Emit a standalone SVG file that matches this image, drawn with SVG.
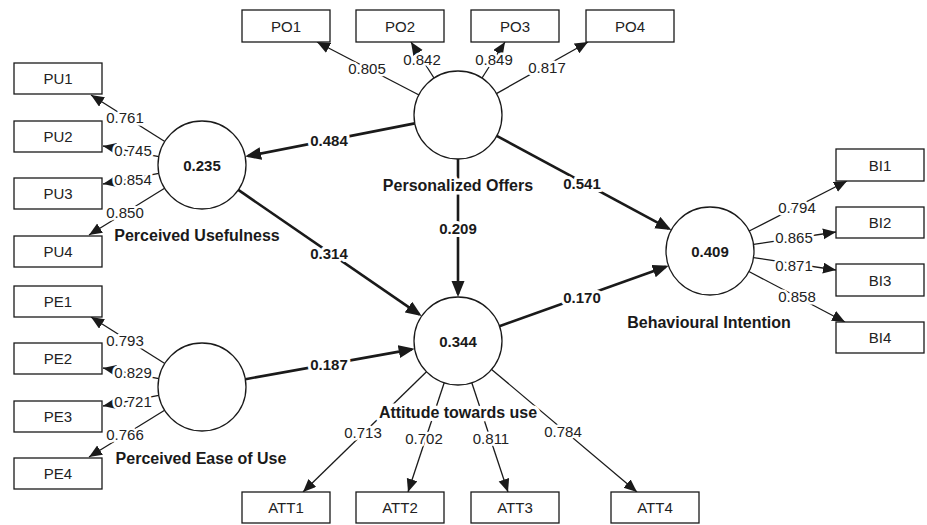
<svg xmlns="http://www.w3.org/2000/svg" width="927" height="525" viewBox="0 0 927 525">
<defs>
<marker id="ah" markerUnits="userSpaceOnUse" markerWidth="14" markerHeight="12" refX="13" refY="5.5" orient="auto">
<path d="M0,0 L13,5.5 L0,11 z" fill="#1a1a1a"/>
</marker>
<marker id="ahb" markerUnits="userSpaceOnUse" markerWidth="18" markerHeight="14" refX="13" refY="6.5" orient="auto">
<path d="M0,0 L16,6.5 L0,13 z" fill="#1a1a1a"/>
</marker>
</defs>
<style>
.bg{fill:#fff}
.load{stroke:#1a1a1a;stroke-width:1.3;fill:none;marker-end:url(#ah)}
.path{stroke:#1a1a1a;stroke-width:2.6;fill:none;marker-end:url(#ahb)}
.lv{fill:#fff;stroke:#1a1a1a;stroke-width:1.3}
.box{fill:#fff;stroke:#1a1a1a;stroke-width:1.3}
text{font-family:"Liberation Sans",Arial,sans-serif;fill:#1a1a1a;text-anchor:middle;dominant-baseline:central}
.lt{font-size:15px;fill:#222;stroke:#fff;stroke-width:5;paint-order:stroke;stroke-linejoin:round}
.pt{font-size:15px;font-weight:bold;stroke:#fff;stroke-width:6;paint-order:stroke;stroke-linejoin:round}
.nm{font-size:16px;font-weight:bold;stroke:#fff;stroke-width:7;paint-order:stroke;stroke-linejoin:round}
.r2{font-size:15px;font-weight:bold}
.bt{font-size:15px;fill:#222}
</style>
<rect class="bg" width="927" height="525"/>
<g id="connectors">
<line class="load" x1="419" y1="95" x2="317" y2="42"/>
<line class="load" x1="434" y1="78" x2="411" y2="42"/>
<line class="load" x1="482" y1="78" x2="505" y2="42"/>
<line class="load" x1="496.4" y1="93.6" x2="588" y2="42"/>
<line class="load" x1="164.8" y1="141.5" x2="91" y2="95"/>
<line class="load" x1="158.8" y1="156.7" x2="103" y2="146"/>
<line class="load" x1="158.8" y1="173.3" x2="103" y2="184"/>
<line class="load" x1="164.6" y1="188.2" x2="89" y2="235"/>
<line class="load" x1="164.8" y1="363.5" x2="91" y2="317"/>
<line class="load" x1="158.8" y1="378.7" x2="103" y2="368"/>
<line class="load" x1="158.8" y1="395.3" x2="103" y2="406"/>
<line class="load" x1="164.6" y1="410.2" x2="89" y2="457"/>
<line class="load" x1="426.5" y1="371.7" x2="303" y2="492"/>
<line class="load" x1="444.2" y1="382.8" x2="408" y2="492"/>
<line class="load" x1="471.8" y1="382.8" x2="508" y2="492"/>
<line class="load" x1="491.6" y1="369.4" x2="637" y2="492"/>
<line class="load" x1="749.2" y1="231" x2="847" y2="181"/>
<line class="load" x1="753.5" y1="244.4" x2="836" y2="232"/>
<line class="load" x1="753.5" y1="257.6" x2="836" y2="270"/>
<line class="load" x1="748.9" y1="271.5" x2="845" y2="322"/>
<line class="path" x1="414.8" y1="123.4" x2="248.1" y2="156"/>
<line class="path" x1="496.7" y1="135.9" x2="668.7" y2="228.7"/>
<line class="path" x1="458" y1="159" x2="458" y2="294"/>
<line class="path" x1="238.3" y1="189.9" x2="419.2" y2="314.4"/>
<line class="path" x1="245.3" y1="379.2" x2="411.7" y2="349.4"/>
<line class="path" x1="499.4" y1="326.2" x2="665.8" y2="266.8"/>
<text class="lt" x="367" y="68">0.805</text>
<text class="lt" x="422" y="59">0.842</text>
<text class="lt" x="494" y="59">0.849</text>
<text class="lt" x="547" y="67">0.817</text>
<text class="lt" x="125" y="117">0.761</text>
<text class="lt" x="133" y="150">0.745</text>
<text class="lt" x="133" y="179">0.854</text>
<text class="lt" x="125" y="212">0.850</text>
<text class="lt" x="125" y="340">0.793</text>
<text class="lt" x="133" y="372">0.829</text>
<text class="lt" x="133" y="401">0.721</text>
<text class="lt" x="125" y="434">0.766</text>
<text class="lt" x="363" y="432">0.713</text>
<text class="lt" x="424" y="438">0.702</text>
<text class="lt" x="491" y="438">0.811</text>
<text class="lt" x="563" y="431">0.784</text>
<text class="lt" x="797" y="207">0.794</text>
<text class="lt" x="794" y="237">0.865</text>
<text class="lt" x="794" y="265">0.871</text>
<text class="lt" x="797" y="296">0.858</text>
<text class="pt" x="329" y="140">0.484</text>
<text class="pt" x="582" y="183">0.541</text>
<text class="pt" x="458" y="228">0.209</text>
<text class="pt" x="329" y="253">0.314</text>
<text class="pt" x="329" y="364">0.187</text>
<text class="pt" x="582" y="297">0.170</text>
</g>
<g id="PO">
<circle class="lv" cx="458" cy="115" r="44"/>
<text class="nm" x="458" y="185">Personalized Offers</text>
</g>
<g id="PU">
<circle class="lv" cx="202" cy="165" r="44"/>
<text class="r2" x="202" y="165">0.235</text>
<text class="nm" x="197" y="235">Perceived Usefulness</text>
</g>
<g id="PE">
<circle class="lv" cx="202" cy="387" r="44"/>
<text class="nm" x="201" y="458">Perceived Ease of Use</text>
</g>
<g id="ATT">
<circle class="lv" cx="458" cy="341" r="44"/>
<text class="r2" x="458" y="341">0.344</text>
<text class="nm" x="458" y="412">Attitude towards use</text>
</g>
<g id="BI">
<circle class="lv" cx="710" cy="251" r="44"/>
<text class="r2" x="710" y="251">0.409</text>
<text class="nm" x="709" y="322">Behavioural Intention</text>
</g>
<g id="PO1"><rect class="box" x="242" y="10" width="88" height="32"/><text class="bt" x="286" y="26">PO1</text></g>
<g id="PO2"><rect class="box" x="356" y="10" width="88" height="32"/><text class="bt" x="400" y="26">PO2</text></g>
<g id="PO3"><rect class="box" x="471" y="10" width="88" height="32"/><text class="bt" x="515" y="26">PO3</text></g>
<g id="PO4"><rect class="box" x="586" y="10" width="88" height="32"/><text class="bt" x="630" y="26">PO4</text></g>
<g id="PU1"><rect class="box" x="14" y="63" width="88" height="31"/><text class="bt" x="58" y="78.5">PU1</text></g>
<g id="PU2"><rect class="box" x="14" y="121" width="88" height="31"/><text class="bt" x="58" y="136.5">PU2</text></g>
<g id="PU3"><rect class="box" x="14" y="178" width="88" height="31"/><text class="bt" x="58" y="193.5">PU3</text></g>
<g id="PU4"><rect class="box" x="14" y="236" width="88" height="31"/><text class="bt" x="58" y="251.5">PU4</text></g>
<g id="PE1"><rect class="box" x="14" y="286" width="88" height="31"/><text class="bt" x="58" y="301.5">PE1</text></g>
<g id="PE2"><rect class="box" x="14" y="343" width="88" height="31"/><text class="bt" x="58" y="358.5">PE2</text></g>
<g id="PE3"><rect class="box" x="14" y="401" width="88" height="31"/><text class="bt" x="58" y="416.5">PE3</text></g>
<g id="PE4"><rect class="box" x="14" y="458" width="88" height="31"/><text class="bt" x="58" y="473.5">PE4</text></g>
<g id="ATT1"><rect class="box" x="242" y="492" width="88" height="31"/><text class="bt" x="286" y="507.5">ATT1</text></g>
<g id="ATT2"><rect class="box" x="356" y="492" width="88" height="31"/><text class="bt" x="400" y="507.5">ATT2</text></g>
<g id="ATT3"><rect class="box" x="471" y="492" width="88" height="31"/><text class="bt" x="515" y="507.5">ATT3</text></g>
<g id="ATT4"><rect class="box" x="611" y="492" width="88" height="31"/><text class="bt" x="655" y="507.5">ATT4</text></g>
<g id="BI1"><rect class="box" x="836" y="149" width="88" height="32"/><text class="bt" x="880" y="165">BI1</text></g>
<g id="BI2"><rect class="box" x="836" y="207" width="88" height="31"/><text class="bt" x="880" y="222.5">BI2</text></g>
<g id="BI3"><rect class="box" x="836" y="264" width="88" height="32"/><text class="bt" x="880" y="280">BI3</text></g>
<g id="BI4"><rect class="box" x="836" y="322" width="88" height="31"/><text class="bt" x="880" y="337.5">BI4</text></g>
</svg>
